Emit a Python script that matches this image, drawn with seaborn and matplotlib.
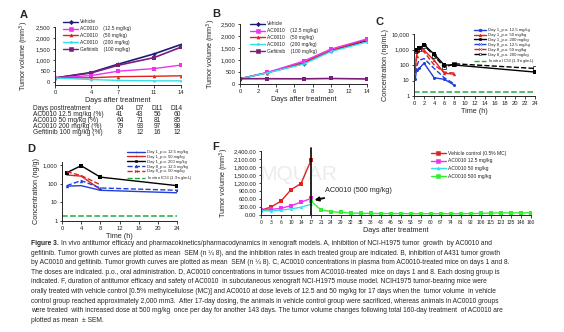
import numpy as np
import pandas as pd
import matplotlib
matplotlib.use('Agg')
import matplotlib.pyplot as plt
import seaborn as sns
from matplotlib.lines import Line2D
from matplotlib.ticker import FuncFormatter, FixedLocator, NullLocator

sns.set_theme(style='ticks')
plt.rcParams['font.family'] = ['Liberation Sans', 'DejaVu Sans']
plt.rcParams['axes.linewidth'] = 0.7
plt.rcParams['xtick.major.width'] = 0.6
plt.rcParams['ytick.major.width'] = 0.6
plt.rcParams['xtick.major.size'] = 1.8
plt.rcParams['ytick.major.size'] = 1.8
plt.rcParams['xtick.major.pad'] = 1.5
plt.rcParams['ytick.major.pad'] = 1.5

# ---------------- data ----------------
# Panel A
daysA = [0, 4, 7, 11, 14]
A_vehicle = [170, 420, 800, 1270, 1700]
A_ac125 = [170, 280, 480, 600, 760]
A_ac50 = [170, 180, 230, 250, 270]
A_ac200 = [170, 100, 60, 40, 40]
A_gef = [170, 400, 750, 1100, 1580]
tab_cols = ["D4", "D7", "D11", "D14"]
tab_rows = ["AC0010 12.5 mg/kg (%)", "AC0010 50 mg/kg (%)", "AC0010 200 mg/kg (%)", "Gefitinib 100 mg/kg (%)"]
tab_vals = [[41, 43, 56, 60], [64, 71, 81, 85], [79, 93, 97, 98], [8, 12, 16, 12]]

# Panel B
daysB = [0, 3, 7, 10, 14]
B_vehicle = [220, 470, 850, 1380, 1800]
B_ac125 = [220, 480, 950, 1450, 1880]
B_ac50 = [220, 470, 900, 1400, 1850]
B_ac200 = [220, 460, 830, 1350, 1750]
B_gef = [220, 220, 215, 230, 210]

# Panel C (plasma, ng/mL)
tC = [0.25, 0.5, 1, 2, 4, 6, 8]
tC24 = [0.25, 0.5, 1, 2, 4, 6, 8, 24]
C_d1_125 = [12, 50, 60, 130, 15, 12, 5]
C_d1_50 = [50, 400, 1500, 900, 200, 30, 25]
C_d1_200 = [900, 1000, 1200, 2000, 500, 100, 100, 35]
C_d8_125 = [30, 80, 200, 260, 60, 15, 6]
C_d8_50 = [60, 300, 1000, 700, 100, 35, 30]
C_d8_200 = [800, 900, 1100, 1800, 400, 70, 120, 60]
ic50 = 1.9

# Panel D (tumor, ng/g)
tD = [1, 4, 8, 24]
tD8 = [1, 4, 8]
D_d1_125 = [75, 80, 45, 33]
D_d1_50 = [300, 260, 50]
D_d1_200 = [400, 950, 230, 80]
D_d8_125 = [80, 150, 60, 45]
D_d8_50 = [450, 280, 90]

# Panel F
F_days = ["0", "3", "6", "10", "14", "17", "21", "24", "29", "32", "35", "38", "43", "46",
          "50", "53", "57", "60", "67", "74", "81", "92", "106", "115", "123", "135", "146", "160"]
F_vehicle = [180, 300, 520, 950, 1180, 2050]
F_ac125 = [170, 210, 250, 350, 480, 620]
F_ac50 = [160, 150, 180, 230, 290, 400]
F_ac500 = [520, 190, 130, 95, 75, 65, 60, 55, 55, 55, 50, 50, 50, 50, 50, 50, 55, 60, 75, 80, 80, 80, 85]

caption = [
    "In vivo antitumor efficacy and pharmacokinetics/pharmacodynamics in xenograft models. A, inhibition of NCI-H1975 tumor  growth  by AC0010 and",
    "gefitinib. Tumor growth curves are plotted as mean  SEM (n \u00bc 8), and the inhibition rates in each treated group are indicated. B, inhibition of A431 tumor growth",
    "by AC0010 and gefitinib. Tumor growth curves are plotted as mean  SEM (n \u00bc 8). C, AC0010 concentrations in plasma from AC0010-treated mice on days 1 and 8.",
    "The doses are indicated. p.o., oral administration. D, AC0010 concentrations in tumor tissues from AC0010-treated  mice on days 1 and 8. Each dosing group is",
    "indicated. F, duration of antitumor efficacy and safety of AC0010  in subcutaneous xenograft NCI-H1975 mouse model. NCIH1975 tumor-bearing mice were",
    "orally treated with vehicle control [0.5% methylcellulose (MC)] and AC0010 at dose levels of 12.5 and 50 mg/kg for 17 days when the  tumor volume  in vehicle",
    "control group reached approximately 2,000 mm3.  After 17-day dosing, the animals in vehicle control group were sacrificed, whereas animals in AC0010 groups",
    "were treated  with increased dose at 500 mg/kg  once per day for another 143 days. The tumor volume changes following total 160-day treatment  of AC0010 are",
    "plotted as mean  \u00b1 SEM.",
]

# ---------------- layout helpers ----------------
W, H = 564, 332
fig = plt.figure(figsize=(W / 100, H / 100), dpi=100)
fig.patch.set_facecolor('white')

def rect(l, t, r, b):
    return [l / W, 1 - b / H, (r - l) / W, (b - t) / H]

def ftxt(x, y, s, **kw):
    return fig.text(x / W, 1 - y / H, s, **kw)

TICK = 4.2
LAB = 5.2

NAVY = '#1c1c78'
MAG = '#ee33ee'
RED = '#e02222'
CYAN = '#33e0e8'
PURP = '#7a1e7a'
BLUE = '#1f3fd8'
GREEN = '#22aa44'
LGREEN = '#33ee33'

def style(ax):
    sns.despine(ax=ax)
    ax.tick_params(labelsize=TICK, colors='#222222')
    ax.set_facecolor('white')

def series(ax, x, y, color, marker, ls='-', ms=2.6, lw=1.0, mfc=None):
    sns.lineplot(x=x, y=y, ax=ax, color=color, marker=marker, markersize=ms, linewidth=lw,
                 linestyle=ls, markeredgewidth=0.5 if mfc == 'none' else 0,
                 markerfacecolor=mfc if mfc else color, markeredgecolor=color, legend=False)

def leg(ax, items, x, y, fs=3.4, ls=0.3, hl=2.6, ms=2.2):
    handles = [Line2D([], [], color=c, marker=m, linestyle=s, markersize=ms, linewidth=1.0,
                      markerfacecolor=(c if f is None else f), markeredgecolor=c, markeredgewidth=0.4)
               for (_, c, m, s, f) in items]
    labels = [t for (t, *_rest) in items]
    ax.legend(handles, labels, loc='upper left', bbox_to_anchor=(x / W, 1 - y / H),
              bbox_transform=fig.transFigure, frameon=False, fontsize=fs,
              handlelength=hl, labelspacing=ls, borderpad=0, handletextpad=0.5)

comma0 = FuncFormatter(lambda v, p: f"{v:,.0f}")

# ---------------- Panel A ----------------
axA = fig.add_axes(rect(55, 27, 181, 85))
series(axA, daysA, A_vehicle, NAVY, 'D', ms=2.2, lw=1.2)
series(axA, daysA, A_gef, PURP, 's', ms=2.2, lw=1.2)
series(axA, daysA, A_ac125, MAG, 's')
series(axA, daysA, A_ac50, RED, '^')
series(axA, daysA, A_ac200, CYAN, '*', ms=3)
axA.set_xlim(0, 14)
axA.set_ylim(-150, 2500)
axA.set_xticks(daysA)
axA.set_yticks([0, 500, 1000, 1500, 2000, 2500])
axA.yaxis.set_major_formatter(comma0)
axA.set_xlabel("Days after treatment", fontsize=LAB, labelpad=2)
axA.set_ylabel("Tumor volume (mm$^3$)", fontsize=LAB, labelpad=3)
style(axA)
leg(axA, [("Vehicle", NAVY, 'D', '-', None),
          ("AC0010    (12.5 mg/kg)", MAG, 's', '-', None),
          ("AC0010    (50 mg/kg)", RED, '^', '-', None),
          ("AC0010    (200 mg/kg)", CYAN, '*', '-', None),
          ("Gefitinib    (100 mg/kg)", PURP, 's', '-', None)], 61, 17, fs=3.5, ls=0.38, hl=3.0)
ftxt(20, 15, "A", fontsize=8, fontweight='bold', va='center')

# table
TF = 4.8
colx = [120, 140, 157, 177]
ftxt(33, 109, "Days posttreatment", fontsize=TF, va='center')
for j, c in enumerate(tab_cols):
    ftxt(colx[j], 109, c, fontsize=TF, va='center', ha='center')
for i, r in enumerate(tab_rows):
    yy = 115 + i * 6
    ftxt(33, yy, r, fontsize=TF, va='center')
    for j, v in enumerate(tab_vals[i]):
        ftxt(colx[j], yy, str(v), fontsize=TF, va='center', ha='center')

# ---------------- Panel B ----------------
axB = fig.add_axes(rect(240, 24, 367, 84))
series(axB, daysB, B_vehicle, NAVY, 'D', ms=2.2)
series(axB, daysB, B_ac50, RED, '^')
series(axB, daysB, B_ac125, MAG, 's')
series(axB, daysB, B_ac200, CYAN, '*', ms=3)
series(axB, daysB, B_gef, PURP, 's', ms=2.2, lw=1.2)
axB.set_xlim(0, 14)
axB.set_ylim(0, 2500)
axB.set_xticks(range(0, 15, 2))
axB.set_yticks([0, 500, 1000, 1500, 2000, 2500])
axB.yaxis.set_major_formatter(comma0)
axB.set_xlabel("Days after treatment", fontsize=LAB, labelpad=2)
axB.set_ylabel("Tumor volume (mm$^3$)", fontsize=LAB, labelpad=2)
style(axB)
leg(axB, [("Vehicle", NAVY, 'D', '-', None),
          ("AC0010    (12.5 mg/kg)", MAG, 's', '-', None),
          ("AC0010    (50 mg/kg)", RED, '^', '-', None),
          ("AC0010    (200 mg/kg)", CYAN, '*', '-', None),
          ("Gefitinib    (100 mg/kg)", PURP, 's', '-', None)], 248, 19, fs=3.5, ls=0.38, hl=3.0)
ftxt(212, 14, "B", fontsize=8, fontweight='bold', va='center')

# ---------------- Panel C ----------------
axC = fig.add_axes(rect(414, 34, 535, 96))
axC.set_yscale('log')
series(axC, tC, C_d1_125, BLUE, 'o', ms=2.2)
series(axC, tC, C_d1_50, RED, '^', ms=2.4)
series(axC, tC24, C_d1_200, 'black', 's', ms=2.2)
series(axC, tC, C_d8_125, BLUE, 'x', ls='--', ms=2.2)
series(axC, tC, C_d8_50, RED, 'x', ls='--', ms=2.2)
series(axC, tC24, C_d8_200, 'black', 's', ls='--', ms=3, mfc='none')
sns.lineplot(x=[0, 24], y=[ic50, ic50], ax=axC, color=GREEN, linestyle='--', linewidth=1.1, legend=False)
axC.set_xlim(0, 24)
axC.set_ylim(1, 10000)
axC.set_xticks(range(0, 25, 2))
axC.yaxis.set_major_locator(FixedLocator([1, 10, 100, 1000, 10000]))
axC.yaxis.set_minor_locator(NullLocator())
axC.yaxis.set_major_formatter(comma0)
axC.set_xlabel("Time (h)", fontsize=LAB, labelpad=2)
axC.set_ylabel("Concentration (ng/mL)", fontsize=LAB, labelpad=2)
style(axC)
leg(axC, [("Day 1_p.o. 12.5 mg/kg", BLUE, 'o', '-', None),
          ("Day 1_p.o. 50 mg/kg", RED, '^', '-', None),
          ("Day 1_p.o. 200 mg/kg", 'black', 's', '-', None),
          ("Day 8_p.o. 12.5 mg/kg", BLUE, 'x', '--', None),
          ("Day 8_p.o. 50 mg/kg", RED, 'x', '--', None),
          ("Day 8_p.o. 200 mg/kg", 'black', 's', '--', 'none'),
          ("In vitro IC$_{50}$ (1.9 ng/mL)", GREEN, '', '--', None)], 472, 26,
    fs=3.1, ls=0.2, hl=2.7, ms=2.0)
ftxt(376, 22, "C", fontsize=8, fontweight='bold', va='center')

# ---------------- Panel D ----------------
axD = fig.add_axes(rect(62, 162, 177, 221))
axD.set_yscale('log')
series(axD, tD, D_d1_125, BLUE, '+', ms=3)
series(axD, tD8, D_d1_50, RED, '+', ms=3)
series(axD, tD, D_d1_200, 'black', 's', ms=2.4)
series(axD, tD, D_d8_125, BLUE, '^', ls='--', ms=2.4)
series(axD, tD8, D_d8_50, RED, 'x', ls='--', ms=2.4)
sns.lineplot(x=[0, 24], y=[ic50, ic50], ax=axD, color=GREEN, linestyle='--', linewidth=1.1, legend=False)
axD.set_xlim(0, 24)
axD.set_ylim(1, 1500)
axD.set_xticks(range(0, 25, 4))
axD.yaxis.set_major_locator(FixedLocator([1, 10, 100, 1000]))
axD.yaxis.set_minor_locator(NullLocator())
axD.yaxis.set_major_formatter(comma0)
axD.set_xlabel("Time (h)", fontsize=LAB, labelpad=2)
axD.set_ylabel("Concentration (ng/g)", fontsize=LAB, labelpad=2)
style(axD)
leg(axD, [("Day 1_p.o. 12.5 mg/kg", BLUE, '+', '-', None),
          ("Day 1_p.o. 50 mg/kg", RED, '+', '-', None),
          ("Day 1_p.o. 200 mg/kg", 'black', 's', '-', None),
          ("Day 8_p.o. 12.5 mg/kg", BLUE, '^', '--', None),
          ("Day 8_p.o. 50 mg/kg", RED, 'x', '--', None),
          ("In vitro IC$_{50}$ (1.9 ng/mL)", GREEN, '', '--', None)], 125, 148,
    fs=3.0, ls=0.2, hl=4.2, ms=2.0)
ftxt(27, 149, "D", fontsize=8, fontweight='bold', va='center')

# ---------------- Panel F ----------------
axF = fig.add_axes(rect(261, 151, 531, 215))
idx = np.arange(len(F_days))
series(axF, idx[:len(F_vehicle)], F_vehicle, RED, 's', ms=2.2)
series(axF, idx[:len(F_ac125)], F_ac125, MAG, 's', ms=2.2)
series(axF, idx[:len(F_ac50)], F_ac50, CYAN, '^', ms=2.2)
series(axF, idx[5:5 + len(F_ac500)], F_ac500, LGREEN, 's', ms=2.2)
axF.plot([5, 5], [0, 2520], color='black', linewidth=1.2, clip_on=False)
axF.set_xlim(0, len(F_days) - 1)
axF.set_ylim(0, 2400)
axF.set_xticks(idx)
axF.set_xticklabels(F_days)
axF.set_yticks(np.arange(0, 2401, 300))
axF.yaxis.set_major_formatter(FuncFormatter(lambda v, p: f"{v:,.2f}"))
axF.set_xlabel("Days after treatment", fontsize=LAB, labelpad=2)
axF.set_ylabel("Tumor volume (mm$^3$)", fontsize=LAB, labelpad=2)
style(axF)
axF.tick_params(axis='x', labelsize=3.6)
axF.text(3.7, 1500, "MQUAR", fontsize=15, color='#ececec', ha='center', va='center', zorder=0)
axF.annotate("AC0010 (500 mg/kg)", xy=(5.35, 560), xytext=(6.4, 900), fontsize=5.2,
             ha='left', va='center',
             arrowprops=dict(arrowstyle='-|>', color='black', lw=1.3, mutation_scale=6,
                             shrinkA=1, shrinkB=0))
leg(axF, [("Vehicle control (0.5% MC)", RED, 's', '-', None),
          ("AC0010 12.5 mg/kg", MAG, 's', '-', None),
          ("AC0010 50 mg/kg", CYAN, '^', '-', None),
          ("AC0010 500 mg/kg", LGREEN, 's', '-', None)], 428, 148, fs=3.6, ls=0.55, hl=3.0)
ftxt(212, 147, "F", fontsize=8, fontweight='bold', va='center')

# ---------------- caption ----------------
capfont = ['Liberation Sans', 'DejaVu Sans']
renderer = fig.canvas.get_renderer()
probe = ftxt(31, 300, caption[1], fontsize=5.0, family=capfont)
pw = probe.get_window_extent(renderer).width
probe.remove()
CF = 5.0 * 480.0 / pw
y0 = 243.5
dy = 9.6
t0 = ftxt(31, y0, "Figure 3.", fontsize=CF, fontweight='bold', va='center', family=capfont)
w0 = t0.get_window_extent(renderer).width
ftxt(31 + w0 + 2.5, y0, caption[0], fontsize=CF, va='center', family=capfont)
for i, line in enumerate(caption[1:], start=1):
    ftxt(31, y0 + i * dy, line, fontsize=CF, va='center', family=capfont)

fig.savefig('out.png', dpi=100, facecolor='white')
